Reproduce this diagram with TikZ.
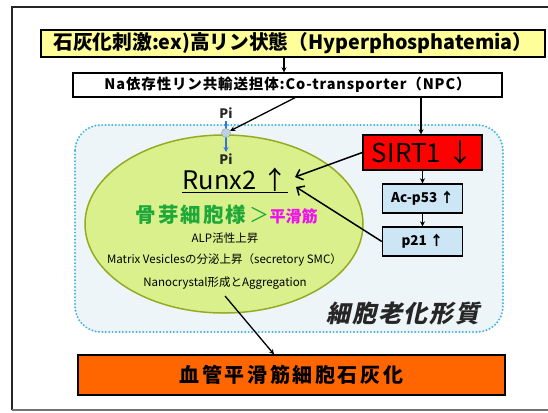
\documentclass[tikz,border=0pt]{standalone}
\usepackage{fontspec}
\setmainfont{Noto Sans CJK JP}
\newfontfamily\slantcjk[FakeSlant=0.22]{Noto Sans CJK JP}
\usetikzlibrary{arrows.meta,calc,shapes.geometric}
\definecolor{ybox}{HTML}{FFFF99}
\definecolor{regionfill}{HTML}{EEF5F8}
\definecolor{regiondot}{HTML}{3FB4E0}
\definecolor{ellfill}{HTML}{D9F08C}
\definecolor{elldraw}{HTML}{97AA22}
\definecolor{sirtred}{HTML}{FF0000}
\definecolor{pbox}{HTML}{CCE6F6}
\definecolor{orangebox}{HTML}{FF6600}
\definecolor{osteogreen}{HTML}{1FA83A}
\definecolor{smcmag}{HTML}{EE11EE}
\definecolor{piblue}{HTML}{3377DD}
\definecolor{picirc}{HTML}{B8D4E0}
\tikzset{
  boxstyle/.style={draw=black, line width=1.4pt, inner sep=0pt, align=center},
  arr/.style={line width=1.3pt, -{Stealth[length=5pt,width=5pt]}},
  barb/.style={line width=1.5pt, -{Straight Barb[length=6pt,width=11pt,line width=1.5pt]}},
  smalltxt/.style={font=\fontsize{11.5}{13}\selectfont, inner sep=0pt},
}
\begin{document}
\begin{tikzpicture}[x=1pt,y=-1pt]
\useasboundingbox (0,0) rectangle (548,412);
\fill[white] (0,0) rectangle (548,412);
% outer frame
\draw[line width=1.5pt, black!85] (548,7) -- (12,7) -- (12,410);
\draw[line width=1.5pt, black!55] (12,410) -- (548,410);

% region
\draw[regiondot, fill=regionfill, line width=2.2pt, line cap=round, dash pattern=on 0pt off 3.4pt, rounded corners=26pt]
  (75,125) rectangle (503,332);

% top boxes
\node[boxstyle, fill=ybox, minimum width=504pt, minimum height=27pt, font=\bfseries\fontsize{19.7}{22}\selectfont] (yellow) at (293,43.5)
  {石灰化刺激:ex)高リン状態（Hyperphosphatemia）};
\node[boxstyle, fill=white, minimum width=429pt, minimum height=24pt, font=\bfseries\fontsize{14.5}{16}\selectfont] (npc) at (287.5,85)
  {\addfontfeatures{LetterSpace=6}Na依存性リン共輸送担体:Co-transporter（NPC）};
\draw[arr] (284,0 |- yellow.south) -- (284,0 |- npc.north);

% ellipse
\node[draw=elldraw, fill=ellfill, line width=1.5pt, ellipse, minimum width=278pt, minimum height=178pt, inner sep=0pt] (cell) at (224,224) {};

% Pi transport
\node[font=\bfseries\fontsize{13}{14}\selectfont, text=black!85, inner sep=0pt] (pitop) at (226,113) {Pi};
\node[font=\bfseries\fontsize{13}{14}\selectfont, text=black!85, inner sep=0pt] (pibot) at (226,159) {Pi};
\coordinate (bluestart) at (226,121);
\coordinate (blueend) at (226,152);
\draw[piblue, line width=1.6pt, -{Stealth[length=5pt,width=5pt]}] (bluestart) -- (blueend);
\node[circle, draw=black!40, fill=picirc, minimum size=9pt, inner sep=0pt] (pi) at (226,133) {};
\draw[arr] (295,0 |- npc.south) -- (pi);

% SIRT1 cascade
\node[boxstyle, fill=sirtred, minimum width=119pt, minimum height=35pt, font=\fontsize{26}{28}\selectfont] (sirt) at (422.5,152.5) {SIRT1 ↓};
\node[boxstyle, fill=pbox, minimum width=80pt, minimum height=29pt, font=\bfseries\fontsize{13.5}{15}\selectfont] (ac) at (422.5,198.5) {Ac-p53 ↑};
\node[boxstyle, fill=pbox, minimum width=80pt, minimum height=29pt, font=\bfseries\fontsize{13.5}{15}\selectfont] (p21) at (422.5,241.5) {p21 ↑};
\draw[arr] (421,0 |- npc.south) -- (421,0 |- sirt.north);
\draw[arr] (sirt.south) -- (ac.north);
\draw[arr] (ac.south) -- (p21.north);

% Runx2 and texts
\node[font=\fontsize{25.5}{28}\selectfont, inner sep=0pt, anchor=base] (runx) at (235,189) {\underline{Runx2 ↑}};
\coordinate (tipa) at (295,177);
\coordinate (tipb) at (296,187);
\draw[barb] (sirt.west) -- (tipa);
\draw[barb] (p21.west) -- (tipb);

\node[inner sep=0pt] (osteo) at (226.5,215)
  {{\bfseries\color{osteogreen}\addfontfeatures{LetterSpace=10}\fontsize{20.5}{22}\selectfont 骨芽細胞様}{\color{osteogreen}\fontsize{20}{22}\selectfont\,＞}{\bfseries\color{smcmag}\fontsize{16}{18}\selectfont 平滑筋}};
\node[smalltxt] (alp) at (225,238) {ALP活性上昇};
\node[smalltxt] (mv) at (224.5,260) {Matrix Vesiclesの分泌上昇（secretory SMC）};
\node[smalltxt] (nano) at (225,283) {Nanocrystal形成とAggregation};

\node[font=\slantcjk\bfseries\fontsize{24}{26}\selectfont, text=black!85, inner sep=0pt] (senes) at (403,313)
  {\addfontfeatures{LetterSpace=8}細胞老化形質};

% bottom box
\node[boxstyle, fill=orangebox, minimum width=427pt, minimum height=40pt, font=\bfseries\fontsize{20}{22}\selectfont] (calc) at (291.5,375)
  {\addfontfeatures{LetterSpace=13}血管平滑筋細胞石灰化};
\coordinate (cellout) at (225,296);
\draw[arr] (cellout) -- (274,0 |- calc.north);
\end{tikzpicture}
\end{document}
